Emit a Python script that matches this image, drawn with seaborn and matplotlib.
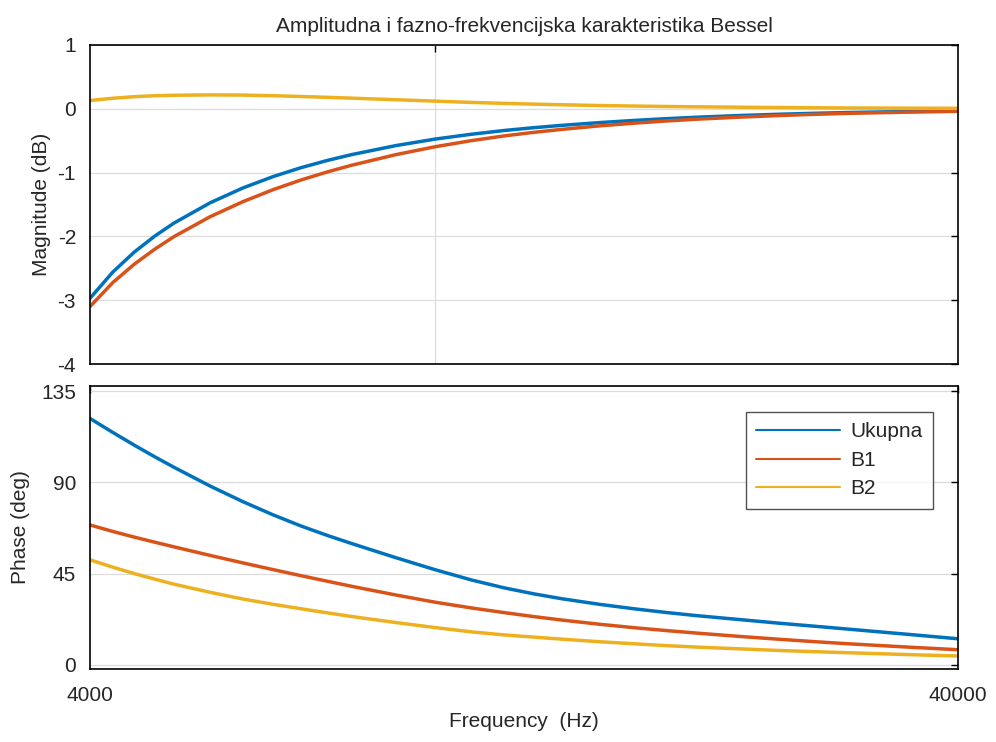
import matplotlib
matplotlib.use("Agg")
import matplotlib.pyplot as plt
from matplotlib.ticker import FixedLocator, FixedFormatter, NullLocator
import seaborn as sns
import pandas as pd

# ---- data ----
freq = [4000, 4250, 4500, 4750, 5000, 5500, 6000, 6500, 7000, 7500, 8000,
        9000, 10000, 11000, 12000, 13000, 14000, 15500, 17000, 18500,
        20000, 22500, 25000, 27500, 30000, 35000, 40000]

mag_ukupna = [-2.97, -2.558, -2.244, -1.995, -1.790, -1.474, -1.241, -1.063,
              -0.923, -0.811, -0.719, -0.577, -0.474, -0.399, -0.340, -0.295,
              -0.259, -0.215, -0.181, -0.154, -0.132, -0.1045, -0.0845,
              -0.0695, -0.058, -0.0423, -0.032]
mag_b1 = [-3.10, -2.723, -2.434, -2.200, -2.002, -1.692, -1.456, -1.268,
          -1.116, -0.991, -0.886, -0.719, -0.594, -0.499, -0.425, -0.368,
          -0.322, -0.266, -0.224, -0.190, -0.163, -0.1295, -0.1045, -0.0855,
          -0.071, -0.0523, -0.040]
mag_b2 = [0.13, 0.165, 0.19, 0.205, 0.212, 0.218, 0.215, 0.205, 0.193, 0.18,
          0.167, 0.142, 0.12, 0.10, 0.085, 0.073, 0.063, 0.051, 0.043, 0.036,
          0.031, 0.025, 0.02, 0.016, 0.013, 0.01, 0.008]

ph_ukupna = [121.5, 114.6, 108.3, 102.6, 97.4, 88.2, 80.5, 74.0, 68.5, 63.9,
             59.9, 52.9, 46.9, 41.9, 38.0, 35.0, 32.6, 29.8, 27.6, 25.8,
             24.3, 22.3, 20.5, 19.0, 17.6, 15.1, 12.9]
ph_b1 = [69.0, 65.8, 63.0, 60.5, 58.2, 54.0, 50.3, 47.0, 44.0, 41.3, 38.8,
         34.5, 30.9, 28.1, 25.8, 23.8, 22.1, 20.0, 18.3, 16.9, 15.7, 14.0,
         12.6, 11.4, 10.4, 8.8, 7.5]
ph_b2 = [51.8, 48.2, 45.0, 42.3, 39.8, 35.8, 32.5, 29.9, 27.7, 25.7, 23.9,
         20.9, 18.4, 16.3, 14.8, 13.7, 12.7, 11.4, 10.4, 9.5, 8.8, 7.9,
         7.1, 6.5, 6.0, 5.1, 4.4]

series_names = ["Ukupna", "B1", "B2"]
colors = ["#0072BD", "#D95319", "#EDB120"]

title = "Amplitudna i fazno-frekvencijska karakteristika Bessel"
xlabel = "Frequency  (Hz)"
mag_label = "Magnitude (dB)"
ph_label = "Phase (deg)"
mag_ticks = [-4, -3, -2, -1, 0, 1]
ph_ticks = [0, 45, 90, 135]
x_ticks = [4000, 40000]
x_ticklabels = ["4000", "40000"]

# ---- build tidy frames ----
def tidy(vals_list):
    rows = []
    for name, vals in zip(series_names, vals_list):
        for f, v in zip(freq, vals):
            rows.append({"f": f, "v": v, "s": name})
    return pd.DataFrame(rows)

df_mag = tidy([mag_ukupna, mag_b1, mag_b2])
df_ph = tidy([ph_ukupna, ph_b1, ph_b2])

sns.set_style("white")
plt.rcParams["font.family"] = ["Liberation Sans", "DejaVu Sans"]
plt.rcParams["font.size"] = 15
plt.rcParams["axes.unicode_minus"] = False
txt = "#262626"

fig = plt.figure(figsize=(9.96, 7.42), dpi=100)
L = 90 / 996
W = 868 / 996
ax1 = fig.add_axes([L, 1 - 364 / 742, W, 319 / 742])
ax2 = fig.add_axes([L, 1 - 669 / 742, W, 283 / 742])

pal = dict(zip(series_names, colors))
sns.lineplot(data=df_mag, x="f", y="v", hue="s", palette=pal, ax=ax1,
             linewidth=2.5, legend=False, sort=True, estimator=None)
sns.lineplot(data=df_ph, x="f", y="v", hue="s", palette=pal, ax=ax2,
             linewidth=2.5, legend="brief", sort=True, estimator=None)

for ax in (ax1, ax2):
    ax.set_xscale("log")
    ax.set_xlim(4000, 40000)
    ax.xaxis.set_minor_locator(NullLocator())
    ax.tick_params(which="both", direction="in", top=True, right=True,
                   length=5, width=1, colors="black", labelcolor=txt,
                   labelsize=15)
    ax.tick_params(axis="y", pad=10)
    ax.tick_params(axis="x", pad=12)
    for sp in ax.spines.values():
        sp.set_color("black")
        sp.set_linewidth(1.2)
    ax.set_facecolor("white")

# top axes
ax1.set_ylim(-4, 1)
ax1.yaxis.set_major_locator(FixedLocator(mag_ticks))
ax1.xaxis.set_major_locator(FixedLocator([10000]))
ax1.xaxis.set_major_formatter(FixedFormatter([""]))
ax1.grid(True, color="#dcdcdc", linewidth=0.9)
ax1.set_axisbelow(True)
ax1.set_xlabel("")
ax1.set_ylabel(mag_label, color=txt, fontsize=15, labelpad=5)
ax1.set_title(title, color=txt, fontsize=15, pad=9)

# bottom axes
ax2.set_ylim(-2, 137.5)
ax2.yaxis.set_major_locator(FixedLocator(ph_ticks))
ax2.xaxis.set_major_locator(FixedLocator(x_ticks))
ax2.xaxis.set_major_formatter(FixedFormatter(x_ticklabels))
ax2.grid(True, axis="y", color="#dcdcdc", linewidth=0.9)
ax2.set_axisbelow(True)
ax2.set_xlabel(xlabel, color=txt, fontsize=15, labelpad=5)
ax2.set_ylabel(ph_label, color=txt, fontsize=15, labelpad=8)

leg = ax2.legend(loc="upper right", bbox_to_anchor=(0.971, 0.908),
                 borderaxespad=0.0, fancybox=False, frameon=True, fontsize=15,
                 handlelength=4.0, borderpad=0.5, labelspacing=0.45,
                 handletextpad=0.5)
leg.get_frame().set_edgecolor("#262626")
leg.get_frame().set_linewidth(1.0)
for line in leg.get_lines():
    line.set_linewidth(1.5)
for t in leg.get_texts():
    t.set_color(txt)

fig.savefig("out.png", dpi=100, facecolor="white")
